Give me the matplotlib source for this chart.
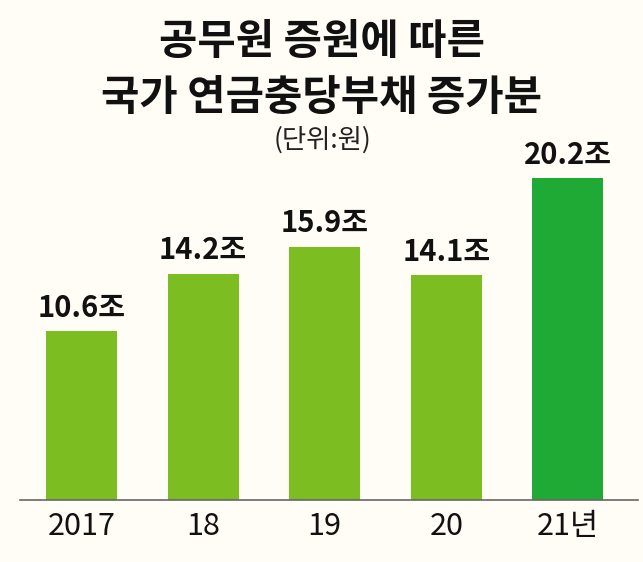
import matplotlib
matplotlib.use("Agg")
import matplotlib.pyplot as plt

plt.rcParams['font.family'] = ['Noto Sans CJK KR', 'DejaVu Sans']

categories = ["2017", "18", "19", "20", "21년"]
values = [10.6, 14.2, 15.9, 14.1, 20.2]
value_labels = ["10.6조", "14.2조", "15.9조", "14.1조", "20.2조"]
colors = ["#7CBE22", "#7CBE22", "#7CBE22", "#7CBE22", "#1FAA35"]

title_line1 = "공무원 증원에 따른"
title_line2 = "국가 연금충당부채 증가분"
unit_text = "(단위:원)"

W, H = 643, 562
bg = "#FFFDF6"
fig = plt.figure(figsize=(W / 100, H / 100), dpi=100, facecolor=bg)

ax_left, ax_right = 20, 638
ax_top, ax_bot = 140, 500
ax = fig.add_axes([ax_left / W, 1 - ax_bot / H, (ax_right - ax_left) / W, (ax_bot - ax_top) / H])
ax.set_facecolor(bg)

x = list(range(len(categories)))
ax.bar(x, values, width=0.585, color=colors, zorder=2)
ax.set_xlim(-0.506, 4.577)
ax.set_ylim(0, 22.6)

for xi, v, lab in zip(x, values, value_labels):
    ax.annotate(lab, (xi, v), xytext=(0, 6), textcoords="offset points",
                ha="center", va="bottom", fontsize=21, fontweight="heavy", color="#111111")

for s in ["top", "right", "left"]:
    ax.spines[s].set_visible(False)
ax.spines["bottom"].set_color("#666666")
ax.spines["bottom"].set_linewidth(1.2)
ax.set_yticks([])
ax.set_xticks(x)
ax.set_xticklabels(categories, fontsize=22, color="#111111")
ax.tick_params(axis="x", length=0, pad=8)

fig.text(322 / W, 1 - 42 / H, title_line1, ha="center", va="center",
         fontsize=30, fontweight="heavy", color="#111111")
fig.text(322 / W, 1 - 98 / H, title_line2, ha="center", va="center",
         fontsize=30, fontweight="heavy", color="#111111")
fig.text(322 / W, 1 - 140 / H, unit_text, ha="center", va="center",
         fontsize=19, fontweight="light", color="#222222")

fig.savefig("out.png", dpi=100, facecolor=bg)
